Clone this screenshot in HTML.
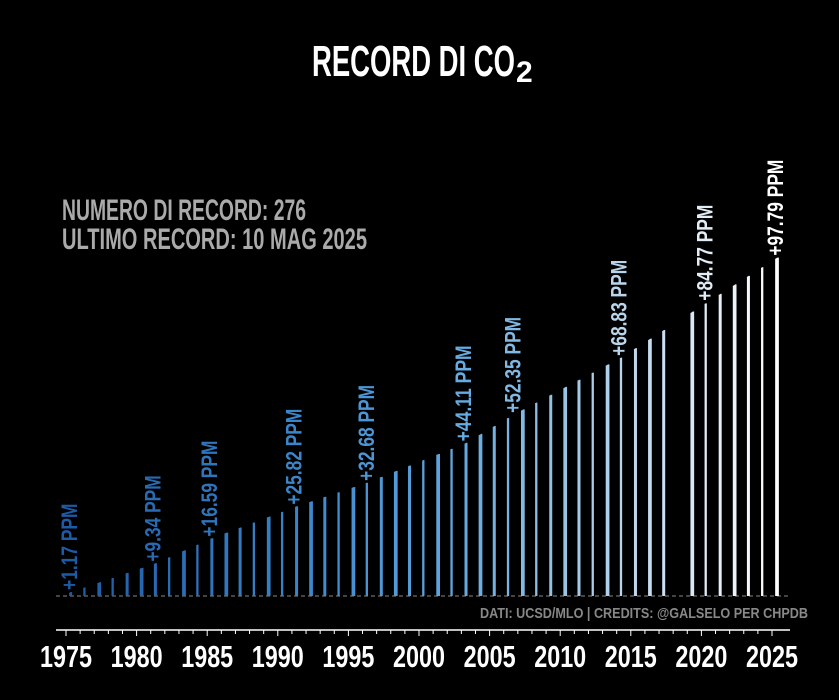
<!DOCTYPE html>
<html><head><meta charset="utf-8"><style>
html,body{margin:0;padding:0;background:#000;width:839px;height:700px;overflow:hidden}
svg{display:block}
text{font-family:"Liberation Sans Narrow","Liberation Sans",sans-serif;font-weight:bold}
</style></head><body>
<svg id="s" width="839" height="700" viewBox="0 0 839 700" xmlns="http://www.w3.org/2000/svg">
<rect width="839" height="700" fill="#000"/>
<text x="312" y="76" font-size="44" fill="#fff" textLength="203" lengthAdjust="spacingAndGlyphs">RECORD DI CO</text>
<text x="516" y="82" font-size="30" fill="#fff" font-weight="normal">2</text>
<text x="62" y="220" font-size="30" fill="#aaa" textLength="244" lengthAdjust="spacingAndGlyphs">NUMERO DI RECORD: 276</text>
<text x="62" y="249" font-size="30" fill="#aaa" textLength="305" lengthAdjust="spacingAndGlyphs">ULTIMO RECORD: 10 MAG 2025</text>
<line x1="56" y1="596" x2="790" y2="596" stroke="#888" stroke-width="1" stroke-dasharray="4,3"/>
<text x="808" y="618" font-size="15" fill="#888" text-anchor="end" textLength="328" lengthAdjust="spacingAndGlyphs">DATI: UCSD/MLO  |  CREDITS: @GALSELO PER CHPDB</text>
<line x1="56" y1="630" x2="790" y2="630" stroke="#fff" stroke-width="1.5"/>
<g id="bars"></g>
<g id="ax"></g>
<g id="lab"></g>
</svg>
<script>
var NS="http://www.w3.org/2000/svg";
function X(t){return 66+(t-1975)*14.12;}
function Y(v){return 596-v*3.46;}
var pts=[[1975,0.5],[1975.4,1.17],[1981.3,9.34],[1985.3,16.59],[1991.3,25.82],[1996.3,32.68],[2003.3,44.11],[2006.7,52.35],[2014.3,68.83],[2020.4,84.77],[2025.4,97.79]];
function val(t){for(var i=0;i<pts.length-1;i++){if(t<=pts[i+1][0]){var a=pts[i],b=pts[i+1];return a[1]+(b[1]-a[1])*(t-a[0])/(b[0]-a[0]);}}return 97.79;}
var cs=[[1975,[30,90,165]],[1990,[55,130,200]],[2003,[100,170,225]],[2014,[185,212,235]],[2025,[255,255,255]]];
function col(t){for(var i=0;i<cs.length-1;i++){if(t<=cs[i+1][0]){var a=cs[i],b=cs[i+1],f=(t-a[0])/(b[0]-a[0]);f=Math.max(0,Math.min(1,f));return "rgb("+a[1].map(function(c,k){return Math.round(c+(b[1][k]-c)*f)}).join(",")+")";}}return "#fff";}
var g=document.getElementById("bars");
for(var y=1975;y<=2025;y++){
 if(y==2018)continue;
 var n=(y%3==0)?4:(y%2==0?2:3);
 for(var k=0;k<n;k++){
  var t=y+0.28+k*0.05;
  var v=val(t);
  var l=document.createElementNS(NS,"line");
  l.setAttribute("x1",X(t));l.setAttribute("x2",X(t));
  l.setAttribute("y1",596);l.setAttribute("y2",Y(v));
  l.setAttribute("stroke",col(y));l.setAttribute("stroke-width","1.6");
  g.appendChild(l);
 }
}
var ax=document.getElementById("ax");
for(var y=1975;y<=2025;y++){
 var l=document.createElementNS(NS,"line");
 l.setAttribute("x1",X(y));l.setAttribute("x2",X(y));l.setAttribute("y1",630);l.setAttribute("y2",y%5==0?636:634);
 l.setAttribute("stroke","#fff");l.setAttribute("stroke-width","1");ax.appendChild(l);
 if(y%5==0){var tx=document.createElementNS(NS,"text");
  tx.setAttribute("x",X(y));tx.setAttribute("y",667);tx.setAttribute("font-size","31");tx.setAttribute("fill","#fff");
  tx.setAttribute("text-anchor","middle");tx.setAttribute("textLength","52");tx.setAttribute("lengthAdjust","spacingAndGlyphs");
  tx.textContent=y;ax.appendChild(tx);}
}
var labs=[[1975.3,1.17,"+1.17 PPM"],[1981.2,9.34,"+9.34 PPM"],[1985.2,16.59,"+16.59 PPM"],[1991.2,25.82,"+25.82 PPM"],[1996.3,32.68,"+32.68 PPM"],[2003.2,44.11,"+44.11 PPM"],[2006.7,52.35,"+52.35 PPM"],[2014.2,68.83,"+68.83 PPM"],[2020.3,84.77,"+84.77 PPM"],[2025.3,97.79,"+97.79 PPM"]];
var lg=document.getElementById("lab");
labs.forEach(function(d){
 var x=X(d[0])+7, y0=Y(d[1])-2;
 var tx=document.createElementNS(NS,"text");
 tx.setAttribute("transform","translate("+x+","+y0+") rotate(-90)");
 tx.setAttribute("font-size","22");tx.setAttribute("fill",col(d[0]));
 tx.setAttribute("textLength",d[2].length*9.6);tx.setAttribute("lengthAdjust","spacingAndGlyphs");
 tx.textContent=d[2];lg.appendChild(tx);
});
</script>
</body></html>
